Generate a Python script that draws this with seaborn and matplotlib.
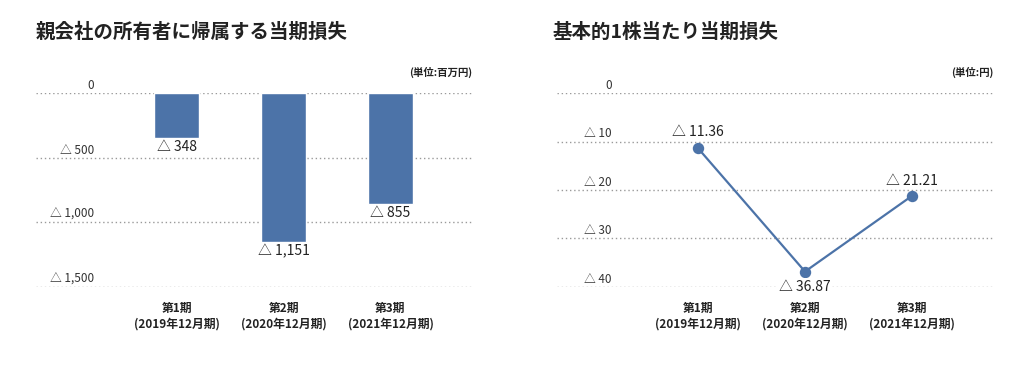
import matplotlib
matplotlib.use("Agg")
import matplotlib.pyplot as plt
import seaborn as sns

# データ（損失はマイナス値で保持し、表示は「△」表記）
periods = ["第1期\n(2019年12月期)", "第2期\n(2020年12月期)", "第3期\n(2021年12月期)"]
net_loss = [-348, -1151, -855]        # 百万円
eps_loss = [-11.36, -36.87, -21.21]   # 円
loss_ticks = [0, -500, -1000, -1500]
eps_ticks = [0, -10, -20, -30, -40]

BLUE = "#4C73A8"
GRID = "#9a9a9a"
TEXT = "#222222"

sns.set_theme(style="white")
plt.rcParams["font.family"] = ["Noto Sans CJK JP", "DejaVu Sans"]


def tri(v, fmt):
    """負の値を「△ 1,000」形式に"""
    if v < 0:
        return "△ " + format(-v, fmt)
    return format(v, fmt)


W, H = 1024, 369
fig = plt.figure(figsize=(W / 100, H / 100), dpi=100)

top, bottom = 93.3, 286.7
ax1 = fig.add_axes([36 / W, 1 - bottom / H, 436 / W, (bottom - top) / H])
ax2 = fig.add_axes([557 / W, 1 - bottom / H, 436 / W, (bottom - top) / H])


def style_axes(ax, ticks, tick_fmt, label_x):
    ax.set_axisbelow(True)
    ax.set_yticks(ticks)
    ax.set_yticklabels([])
    ax.grid(axis="y", color=GRID, linestyle=(0, (1, 2)), linewidth=1.0)
    ax.grid(axis="x", visible=False)
    ax.set_xlabel("")
    ax.set_ylabel("")
    for s in ax.spines.values():
        s.set_visible(False)
    ax.tick_params(axis="both", length=0)
    ax.tick_params(axis="x", pad=11, labelsize=8.5, labelcolor=TEXT)
    for lbl in ax.get_xticklabels():
        lbl.set_fontweight("bold")
        lbl.set_linespacing(1.25)
    # 目盛ラベルは罫線の上に右寄せ
    for t in ticks:
        ax.annotate(tri(t, tick_fmt), xy=(label_x, t),
                    xycoords=ax.get_yaxis_transform(), xytext=(0, 3),
                    textcoords="offset points", ha="right", va="baseline",
                    fontsize=8.5, color="#333333")


# 左: 親会社の所有者に帰属する当期損失
sns.barplot(x=periods, y=net_loss, color=BLUE, saturation=1, width=0.42, ax=ax1)
ax1.set_xlim(-1.318, 2.763)
ax1.set_ylim(-1500, 0)
style_axes(ax1, loss_ticks, ",d", 0.133)
for i, v in enumerate(net_loss):
    ax1.annotate(tri(v, ",d"), xy=(i, v), xytext=(0, -9.5), textcoords="offset points",
                 ha="center", va="baseline", fontsize=10, color=TEXT)

# 右: 基本的1株当たり当期損失
sns.pointplot(x=periods, y=eps_loss, color=BLUE, markersize=7, linewidth=1.6, ax=ax2)
ax2.set_xlim(-1.318, 2.757)
ax2.set_ylim(-40, 0)
style_axes(ax2, eps_ticks, "d", 0.126)
offsets = [8.6, -13.9, 7.6]
for i, (v, dy) in enumerate(zip(eps_loss, offsets)):
    ax2.annotate(tri(v, ".2f"), xy=(i, v), xytext=(0, dy), textcoords="offset points",
                 ha="center", va="baseline", fontsize=10, color=TEXT,
                 bbox=dict(facecolor="white", edgecolor="none", pad=1) if dy < 0 else None,
                 annotation_clip=False)

# タイトル・単位
fig.text(36 / W, 1 - 32 / H, "親会社の所有者に帰属する当期損失", ha="left", va="center",
         fontsize=14, fontweight="bold", color=TEXT)
fig.text(553 / W, 1 - 32 / H, "基本的1株当たり当期損失", ha="left", va="center",
         fontsize=14, fontweight="bold", color=TEXT)
fig.text(472 / W, 1 - 72 / H, "(単位:百万円)", ha="right", va="center",
         fontsize=7.5, fontweight="bold", color=TEXT)
fig.text(993 / W, 1 - 72 / H, "(単位:円)", ha="right", va="center",
         fontsize=7.5, fontweight="bold", color=TEXT)

fig.savefig("out.png", dpi=100, facecolor="white")
